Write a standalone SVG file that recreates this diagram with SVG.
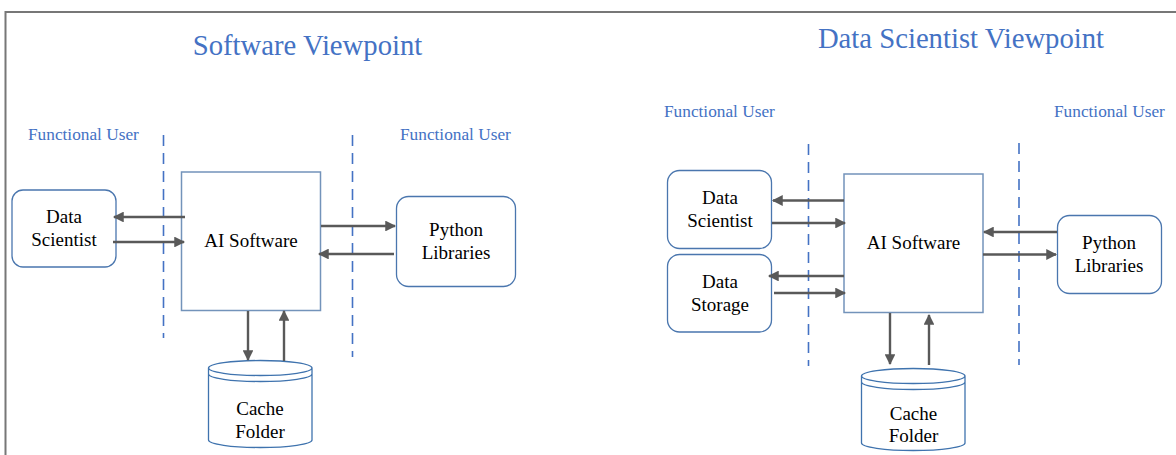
<svg xmlns="http://www.w3.org/2000/svg" width="1176" height="455" viewBox="0 0 1176 455">
  <style>
    .title { font-family: "Liberation Serif", "Times New Roman", serif; font-size: 28.7px; fill: #4472C4; text-anchor: middle; }
    .fu { font-family: "Liberation Serif", "Times New Roman", serif; font-size: 17.3px; fill: #4472C4; }
    .lbl { font-family: "Liberation Serif", "Times New Roman", serif; font-size: 19px; fill: #000; text-anchor: middle; }
    .rbox { fill: #fff; stroke: #4A76AE; stroke-width: 1.3; }
    .main { fill: #fff; stroke: #7393BA; stroke-width: 1.5; }
    .cyl { fill: #fff; stroke: #3F73AE; stroke-width: 1.3; }
    .dash { stroke: #4472C4; stroke-width: 1.6; stroke-dasharray: 11 7; fill: none; }
    .arr { stroke: #595959; stroke-width: 2.4; fill: none; marker-end: url(#ah); }
    .frame { stroke: #777; stroke-width: 2; fill: none; }
  </style>
  <defs>
    <marker id="ah" viewBox="0 0 10 10" refX="9" refY="5" markerWidth="5" markerHeight="4.5" orient="auto" markerUnits="strokeWidth">
      <path d="M0,0 L10,5 L0,10 Z" fill="#595959"/>
    </marker>
  </defs>
  <rect width="1176" height="455" fill="#fff"/>
  <path class="frame" d="M5.5,455 V12 H1176"/>

  <text class="title" x="307.5" y="55">Software Viewpoint</text>
  <text class="fu" x="28" y="140">Functional User</text>
  <text class="fu" x="400" y="140">Functional User</text>
  <text class="title" x="961" y="48">Data Scientist Viewpoint</text>
  <text class="fu" x="664" y="117">Functional User</text>
  <text class="fu" x="1054" y="117">Functional User</text>

  <g id="boundaries">
    <line class="dash" x1="163.5" y1="135" x2="163.5" y2="338"/>
    <line class="dash" x1="352.5" y1="135" x2="352.5" y2="357"/>
    <line class="dash" x1="808.5" y1="144" x2="808.5" y2="366"/>
    <line class="dash" x1="1019" y1="143" x2="1019" y2="365"/>
  </g>

  <g id="l-data-scientist">
    <rect class="rbox" x="12" y="190" width="104" height="77" rx="11"/>
    <text class="lbl" x="64" y="223">Data</text>
    <text class="lbl" x="64" y="246">Scientist</text>
  </g>
  <g id="l-ai-software">
    <rect class="main" x="181.5" y="172" width="139" height="138.5"/>
    <text class="lbl" x="251" y="247">AI Software</text>
  </g>
  <g id="l-python-libraries">
    <rect class="rbox" x="396.5" y="196.5" width="119" height="90" rx="12"/>
    <text class="lbl" x="456" y="236">Python</text>
    <text class="lbl" x="456" y="259">Libraries</text>
  </g>
  <g id="l-cache-folder">
    <path class="cyl" d="M208.5,368 V440 A51.75,7.5 0 0 0 312,440 V368 A51.75,7.5 0 0 0 208.5,368 A51.75,7.5 0 0 0 312,368 M208.5,374 A51.75,7.5 0 0 0 312,374"/>
    <text class="lbl" x="260" y="415">Cache</text>
    <text class="lbl" x="260" y="438">Folder</text>
  </g>

  <g id="r-data-scientist">
    <rect class="rbox" x="667.5" y="170.5" width="104" height="78" rx="12"/>
    <text class="lbl" x="720" y="204">Data</text>
    <text class="lbl" x="720" y="227">Scientist</text>
  </g>
  <g id="r-data-storage">
    <rect class="rbox" x="667.5" y="254.5" width="104" height="77.5" rx="12"/>
    <text class="lbl" x="720" y="288">Data</text>
    <text class="lbl" x="720" y="311">Storage</text>
  </g>
  <g id="r-ai-software">
    <rect class="main" x="844" y="174" width="139" height="138.5"/>
    <text class="lbl" x="913.5" y="249">AI Software</text>
  </g>
  <g id="r-python-libraries">
    <rect class="rbox" x="1057.5" y="215.5" width="104" height="78" rx="12"/>
    <text class="lbl" x="1109" y="249">Python</text>
    <text class="lbl" x="1109" y="271.5">Libraries</text>
  </g>
  <g id="r-cache-folder">
    <path class="cyl" d="M861.5,376 V443 A51.75,7.5 0 0 0 965,443 V376 A51.75,7.5 0 0 0 861.5,376 A51.75,7.5 0 0 0 965,376 M861.5,382 A51.75,7.5 0 0 0 965,382"/>
    <text class="lbl" x="913.5" y="419.5">Cache</text>
    <text class="lbl" x="913.5" y="442">Folder</text>
  </g>

  <g id="connectors">
    <line class="arr" x1="185" y1="217" x2="114" y2="217"/>
    <line class="arr" x1="113" y1="242" x2="184" y2="242"/>
    <line class="arr" x1="321" y1="226" x2="395" y2="226"/>
    <line class="arr" x1="394" y1="254" x2="319" y2="254"/>
    <line class="arr" x1="248" y1="311" x2="248" y2="360"/>
    <line class="arr" x1="284" y1="361" x2="284" y2="311"/>
    <line class="arr" x1="844" y1="200.5" x2="773" y2="200.5"/>
    <line class="arr" x1="772" y1="223" x2="845" y2="223"/>
    <line class="arr" x1="844" y1="276" x2="769" y2="276"/>
    <line class="arr" x1="774" y1="293" x2="845" y2="293"/>
    <line class="arr" x1="1057" y1="232" x2="984" y2="232"/>
    <line class="arr" x1="983" y1="254.5" x2="1056" y2="254.5"/>
    <line class="arr" x1="890" y1="313" x2="890" y2="364"/>
    <line class="arr" x1="929" y1="365" x2="929" y2="315"/>
  </g>
</svg>
